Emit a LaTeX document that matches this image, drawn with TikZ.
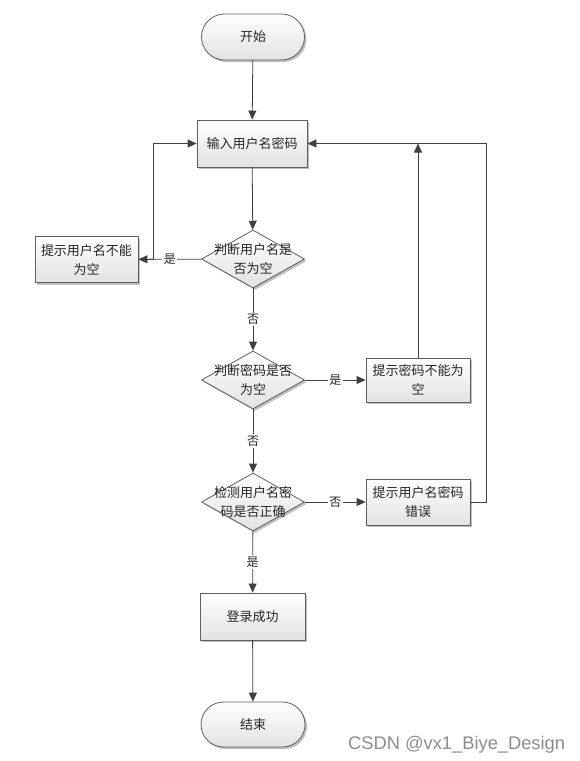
\documentclass[tikz,border=0pt]{standalone}
\usepackage{fontspec}
\setmainfont{Liberation Sans}
\newfontfamily\cjk{Noto Sans CJK SC}
\usetikzlibrary{shapes.geometric,shadows,arrows.meta}
\definecolor{linec}{RGB}{64,64,64}
\definecolor{borderc}{RGB}{95,95,95}
\definecolor{shadebot}{RGB}{226,226,226}
\definecolor{wmark}{RGB}{140,140,140}
\tikzset{
  base/.style={draw=borderc, line width=0.8pt, top color=white, bottom color=shadebot,
    drop shadow={shadow xshift=2pt, shadow yshift=-2pt, fill=black, opacity=0.25},
    font=\cjk\fontsize{13}{19}\selectfont, text=black!85, align=center, inner sep=0pt},
  term/.style={base, minimum width=103pt, minimum height=46pt, rounded corners=23pt},
  proc/.style={base, minimum width=104pt, minimum height=46pt},
  decide/.style={base, diamond, minimum width=103pt, minimum height=58pt},
  dlabel/.style={font=\cjk\fontsize{13}{19}\selectfont, text=black!85, align=center},
  conn/.style={draw=linec, line width=0.8pt, -{Triangle[length=9pt,width=8pt]}},
  lbl/.style={fill=white, font=\cjk\fontsize{12}{13}\selectfont, text=black!85, inner sep=1.5pt},
}
\begin{document}
\begin{tikzpicture}[x=1pt,y=-1pt]
\useasboundingbox (0,0) rectangle (580,761);
\node[term] (start) at (253,37) {开始};
\node[proc, minimum width=110pt, minimum height=47pt] (input) at (252,143.5) {输入用户名密码};
\node[decide, label={[dlabel]center:判断用户名是\\否为空}] (d1) at (253,259) {};
\node[proc, minimum width=103pt] (e1) at (86.5,259.5) {提示用户名不能\\为空};
\node[decide, label={[dlabel]center:判断密码是否\\为空}] (d2) at (253,380) {};
\node[proc, minimum height=44pt] (e2) at (418,380) {提示密码不能为\\空};
\node[decide, label={[dlabel]center:检测用户名密\\码是否正确}] (d3) at (253,502) {};
\node[proc] (e3) at (418,502) {提示用户名密码\\错误};
\node[proc, minimum width=105pt, minimum height=47pt] (ok) at (252.5,616.5) {登录成功};
\node[term, minimum height=45pt, minimum width=104pt, rounded corners=22.5pt] (stop) at (253,724.5) {结束};

\draw[conn] (start) -- (input);
\draw[conn] (input) -- (d1);
\draw[conn] (d1) -- node[lbl]{是} (e1);
\draw[conn] (e1.east) -- ++(15,0) |- (input.west);
\draw[conn] (d1) -- node[lbl]{否} (d2);
\draw[conn] (d2) -- node[lbl]{是} (e2);
\draw[conn] (e2.north) -- (e2.north |- input.east);
\draw[conn] (d2) -- node[lbl]{否} (d3);
\draw[conn] (d3) -- node[lbl]{否} (e3);
\draw[conn] (e3.east) -- ++(16,0) |- (input.east);
\draw[conn] (d3) -- node[lbl]{是} (ok);
\draw[conn] (ok) -- (stop);

\node[font=\fontsize{18.3}{20}\selectfont, text=wmark, inner sep=0pt, anchor=base west] (wm) at (348,749) {CSDN @vx1\_Biye\_Design};
\end{tikzpicture}
\end{document}
